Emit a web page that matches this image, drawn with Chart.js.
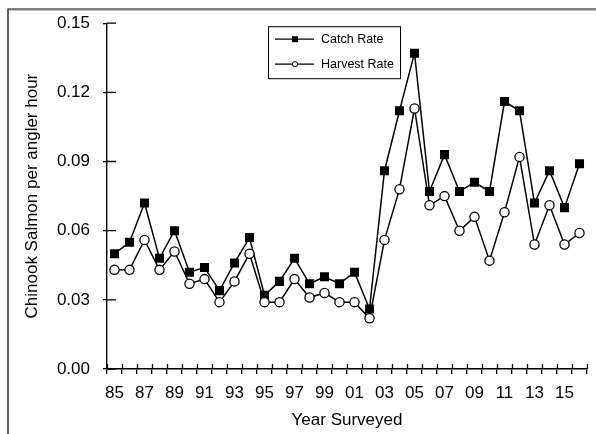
<!DOCTYPE html>
<html>
<head>
<meta charset="utf-8">
<script src="https://cdn.jsdelivr.net/npm/chart.js@4/dist/chart.umd.min.js"></script>
<style>
  html, body { margin: 0; padding: 0; background: #fff; }
  #wrap { width: 596px; height: 434px; }
</style>
</head>
<body>
<div id="wrap"><canvas id="myChart" width="596" height="434"></canvas></div>
<script>
//Survey years (two-digit labels):
const years = ['85','86','87','88','89','90','91','92','93','94','95','96','97','98','99','00',
               '01','02','03','04','05','06','07','08','09','10','11','12','13','14','15','16'];

//Chinook salmon per angler hour:
const catchRate = [0.050, 0.055, 0.072, 0.048, 0.060, 0.042, 0.044, 0.034, 0.046, 0.057, 0.032, 0.038,
                   0.048, 0.037, 0.040, 0.037, 0.042, 0.026, 0.086, 0.112, 0.137, 0.077, 0.093, 0.077,
                   0.081, 0.077, 0.116, 0.112, 0.072, 0.086, 0.070, 0.089];
const harvestRate = [0.043, 0.043, 0.056, 0.043, 0.051, 0.037, 0.039, 0.029, 0.038, 0.050, 0.029, 0.029,
                     0.039, 0.031, 0.033, 0.029, 0.029, 0.022, 0.056, 0.078, 0.113, 0.071, 0.075, 0.060,
                     0.066, 0.047, 0.068, 0.092, 0.054, 0.071, 0.054, 0.059];

//Y axis ticks:
const yTicks = [0.00, 0.03, 0.06, 0.09, 0.12, 0.15];

const font = "'Liberation Sans', Arial, sans-serif";

//Outer frame, inner tick marks and the boxed legend:
const extras = {
    id: 'extras',
    beforeDraw(chart) {
        const ctx = chart.ctx;
        ctx.save();
        ctx.fillStyle = '#fff';
        ctx.fillRect(0, 0, chart.width, chart.height);
        ctx.strokeStyle = '#000';
        ctx.lineWidth = 1.2;
        ctx.beginPath();
        ctx.moveTo(8, chart.height);
        ctx.lineTo(8, 9);
        ctx.lineTo(chart.width, 9);
        ctx.stroke();
        ctx.strokeStyle = '#bbb';
        ctx.lineWidth = 1;
        ctx.beginPath();
        ctx.moveTo(9.5, 10.5);
        ctx.lineTo(chart.width, 10.5);
        ctx.stroke();
        ctx.restore();
    },
    afterDatasetsDraw(chart) {
        const ctx = chart.ctx;
        const xs = chart.scales.x, ys = chart.scales.y;
        ctx.save();
        ctx.strokeStyle = '#000';
        ctx.lineWidth = 1.3;

        //ticks pointing into the plot
        const n = xs.getLabels().length;
        const step = (xs.right - xs.left) / n;
        ctx.beginPath();
        for (let i = 0; i <= n; i++) {
            const x = Math.round(xs.left + i * step) + 0.5;
            ctx.moveTo(x, ys.bottom);
            ctx.lineTo(x, ys.bottom - 5);
        }
        yTicks.forEach(v => {
            const y = ys.getPixelForValue(v);
            ctx.moveTo(xs.left, y);
            ctx.lineTo(xs.left + 9, y);
        });
        ctx.stroke();

        //legend
        const bx = chart.chartArea.left + 161, by = chart.chartArea.top + 3;
        const bw = 132, bh = 52;
        ctx.lineWidth = 1;
        ctx.fillStyle = '#fff';
        ctx.fillRect(bx, by, bw, bh);
        ctx.strokeRect(bx + 0.5, by + 0.5, bw, bh);
        ctx.font = '12.5px ' + font;
        ctx.textBaseline = 'middle';
        chart.data.datasets.forEach((ds, i) => {
            const y = by + 13 + i * 25;
            ctx.strokeStyle = '#000';
            ctx.lineWidth = 1.2;
            ctx.beginPath();
            ctx.moveTo(bx + 7, y);
            ctx.lineTo(bx + 46, y);
            ctx.stroke();
            ctx.lineWidth = 1;
            if (ds.pointStyle === 'rect') {
                ctx.fillStyle = '#000';
                ctx.fillRect(bx + 24, y - 3, 6, 6);
            } else {
                ctx.fillStyle = '#fff';
                ctx.beginPath();
                ctx.arc(bx + 27, y, 2.6, 0, Math.PI * 2);
                ctx.fill();
                ctx.stroke();
            }
            ctx.fillStyle = '#000';
            ctx.fillText(ds.label, bx + 53, y + 0.5);
        });
        ctx.restore();
    }
};

const ctx = document.getElementById("myChart").getContext("2d");

const chart = new Chart(ctx, {
    type: 'line',
    data: {
        labels: years,
        datasets: [{
            label: 'Catch Rate',
            data: catchRate,
            borderColor: '#000',
            borderWidth: 1.5,
            pointStyle: 'rect',
            pointRadius: 6.4,
            pointBackgroundColor: '#000',
            pointBorderColor: '#000',
            pointBorderWidth: 0,
            tension: 0,
            order: 1
        }, {
            label: 'Harvest Rate',
            data: harvestRate,
            borderColor: '#000',
            borderWidth: 1.5,
            pointStyle: 'circle',
            pointRadius: 4.6,
            pointBackgroundColor: '#fff',
            pointBorderColor: '#000',
            pointBorderWidth: 1.3,
            tension: 0,
            order: 0
        }]
    },
    options: {
        responsive: false,
        animation: false,
        events: [],
        layout: { padding: { top: 22, right: 9, left: 0, bottom: 0 } },
        plugins: {
            legend: { display: false },
            tooltip: { enabled: false }
        },
        scales: {
            x: {
                type: 'category',
                offset: true,
                afterFit: s => { s.height = 65; },
                border: { color: '#000', width: 1.4 },
                grid: { offset: true, drawOnChartArea: false, color: '#000', lineWidth: 1.3, tickLength: 5 },
                ticks: {
                    color: '#000',
                    autoSkip: false,
                    maxRotation: 0,
                    padding: 9,
                    font: { family: font, size: 17 },
                    callback: (v, i) => (i % 2 === 0 ? years[i] : '')
                },
                title: {
                    display: true,
                    text: 'Year Surveyed',
                    color: '#000',
                    padding: { top: 0, bottom: 3 },
                    font: { family: font, size: 17 }
                }
            },
            y: {
                min: 0,
                max: 0.15,
                afterFit: s => { s.width = 107; },
                afterBuildTicks: s => { s.ticks = yTicks.map(v => ({ value: v })); },
                border: { color: '#000', width: 1.4 },
                grid: { drawOnChartArea: false, color: '#000', lineWidth: 1.3, tickLength: 4 },
                ticks: {
                    color: '#000',
                    padding: 13,
                    font: { family: font, size: 17 },
                    callback: v => v.toFixed(2)
                },
                title: {
                    display: true,
                    text: 'Chinook Salmon per angler hour',
                    color: '#000',
                    padding: { top: 22, bottom: 0 },
                    font: { family: font, size: 17 }
                }
            }
        }
    },
    plugins: [extras]
});
</script>
</body>
</html>
